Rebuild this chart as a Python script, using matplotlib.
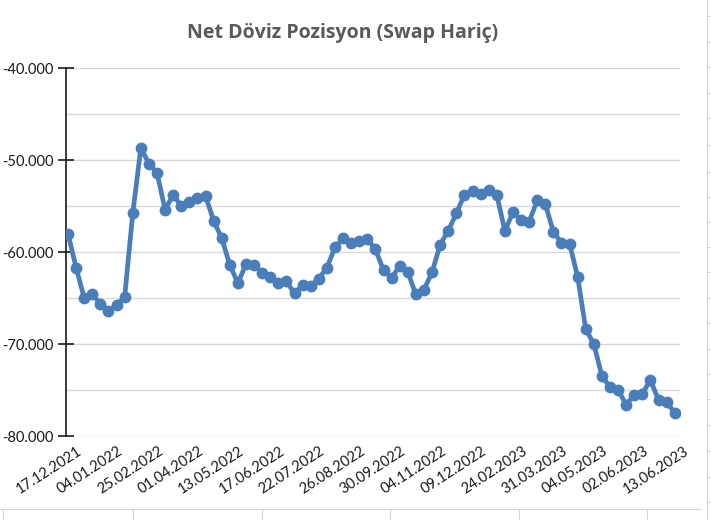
import matplotlib
matplotlib.use("Agg")
import matplotlib.pyplot as plt
from matplotlib.lines import Line2D
from matplotlib.ticker import FuncFormatter, MultipleLocator
import matplotlib.transforms as mtransforms

# ---- data (in millions) ----
values = [
    -58.0, -61.7, -65.0, -64.6, -65.6, -66.4, -65.8, -64.9, -55.8, -48.7,
    -50.4, -51.4, -55.4, -53.8, -55.0, -54.6, -54.1, -53.9, -56.6, -58.5,
    -61.4, -63.4, -61.3, -61.4, -62.3, -62.7, -63.4, -63.2, -64.5, -63.6,
    -63.7, -62.9, -61.7, -59.5, -58.5, -59.0, -58.8, -58.6, -59.7, -62.0,
    -62.8, -61.5, -62.2, -64.6, -64.1, -62.2, -59.2, -57.7, -55.8, -53.8,
    -53.4, -53.7, -53.3, -53.8, -57.7, -55.7, -56.5, -56.7, -54.4, -54.8,
    -57.8, -59.0, -59.1, -62.7, -68.4, -70.0, -73.5, -74.7, -75.0, -76.6,
    -75.5, -75.4, -73.9, -76.1, -76.3, -77.5,
]
values = [v * 1000 for v in values]
tick_labels = [
    "17.12.2021", "04.01.2022", "25.02.2022", "01.04.2022", "13.05.2022",
    "17.06.2022", "22.07.2022", "26.08.2022", "30.09.2022", "04.11.2022",
    "09.12.2022", "24.02.2023", "31.03.2023", "04.05.2023", "02.06.2023",
    "13.06.2023",
]
title = "Net Döviz Pozisyon (Swap Hariç)"

FONT = ["Lato", "DejaVu Sans"]
plt.rcParams["font.family"] = FONT

fig = plt.figure(figsize=(7.11, 5.20), dpi=100)
fig.patch.set_facecolor("white")

# spreadsheet cell lines around the chart (background)
grid_c = "#d4d4d4"
W, H = 711.0, 520.0
fig.add_artist(Line2D([0, 700 / W], [1 - 509 / H] * 2, color=grid_c, lw=0.8, transform=fig.transFigure))
for xv in [3, 133, 262, 390, 519, 647]:
    fig.add_artist(Line2D([xv / W] * 2, [0, 1 - 509 / H], color=grid_c, lw=0.8, transform=fig.transFigure))
fig.add_artist(Line2D([707 / W] * 2, [0, 1], color=grid_c, lw=0.8, transform=fig.transFigure))
for yv in [16, 42, 67, 93, 118, 145, 172, 197, 222, 247, 272, 298, 323, 349, 374, 399, 425, 451, 477, 502]:
    fig.add_artist(Line2D([707 / W, 1], [1 - yv / H] * 2, color=grid_c, lw=0.8, transform=fig.transFigure))

ax = fig.add_axes([66 / W, 1 - 436 / H, 614 / W, 368 / H])
ax.set_facecolor("white")

x = list(range(len(values)))
ax.plot(x, values, color="#4A7EBB", lw=3.4, marker="o", markersize=7.5,
        markerfacecolor="#4A7EBB", markeredgecolor="#4A7EBB", zorder=3,
        solid_joinstyle="round")

ax.set_ylim(-80000, -40000)
ax.set_xlim(-0.25, 75.65)
ax.yaxis.set_major_locator(MultipleLocator(10000))
ax.yaxis.set_minor_locator(MultipleLocator(5000))
ax.yaxis.set_major_formatter(FuncFormatter(lambda v, p: "-" + f"{abs(v):,.0f}".replace(",", ".")))
ax.grid(axis="y", which="both", color="#d9d9d9", lw=1.0, zorder=0)
ax.set_axisbelow(True)

for s in ["top", "right", "bottom"]:
    ax.spines[s].set_visible(False)
ax.spines["left"].set_color("#1a1a1a")
ax.spines["left"].set_linewidth(1.2)

ax.tick_params(axis="y", which="major", direction="inout", length=12, width=1.2,
               color="#1a1a1a", labelsize=10.5, labelcolor="#1a1a1a", pad=3)
ax.tick_params(axis="y", which="minor", length=0)

ax.set_xticks(list(range(0, len(values), 5)))
ax.set_xticklabels(tick_labels, rotation=33, ha="right", rotation_mode="anchor",
                   fontsize=10.5, color="#1a1a1a")
ax.tick_params(axis="x", length=0, pad=6)
offset = mtransforms.ScaledTranslation(9 / 100, 0, fig.dpi_scale_trans)
for lab in ax.get_xticklabels():
    lab.set_transform(lab.get_transform() + offset)

fig.text(343 / W, 1 - 33 / H, title, ha="center", va="center", fontsize=14,
         fontweight="bold", color="#595959", family=["Open Sans", "DejaVu Sans"])

fig.savefig("out.png", dpi=100)
